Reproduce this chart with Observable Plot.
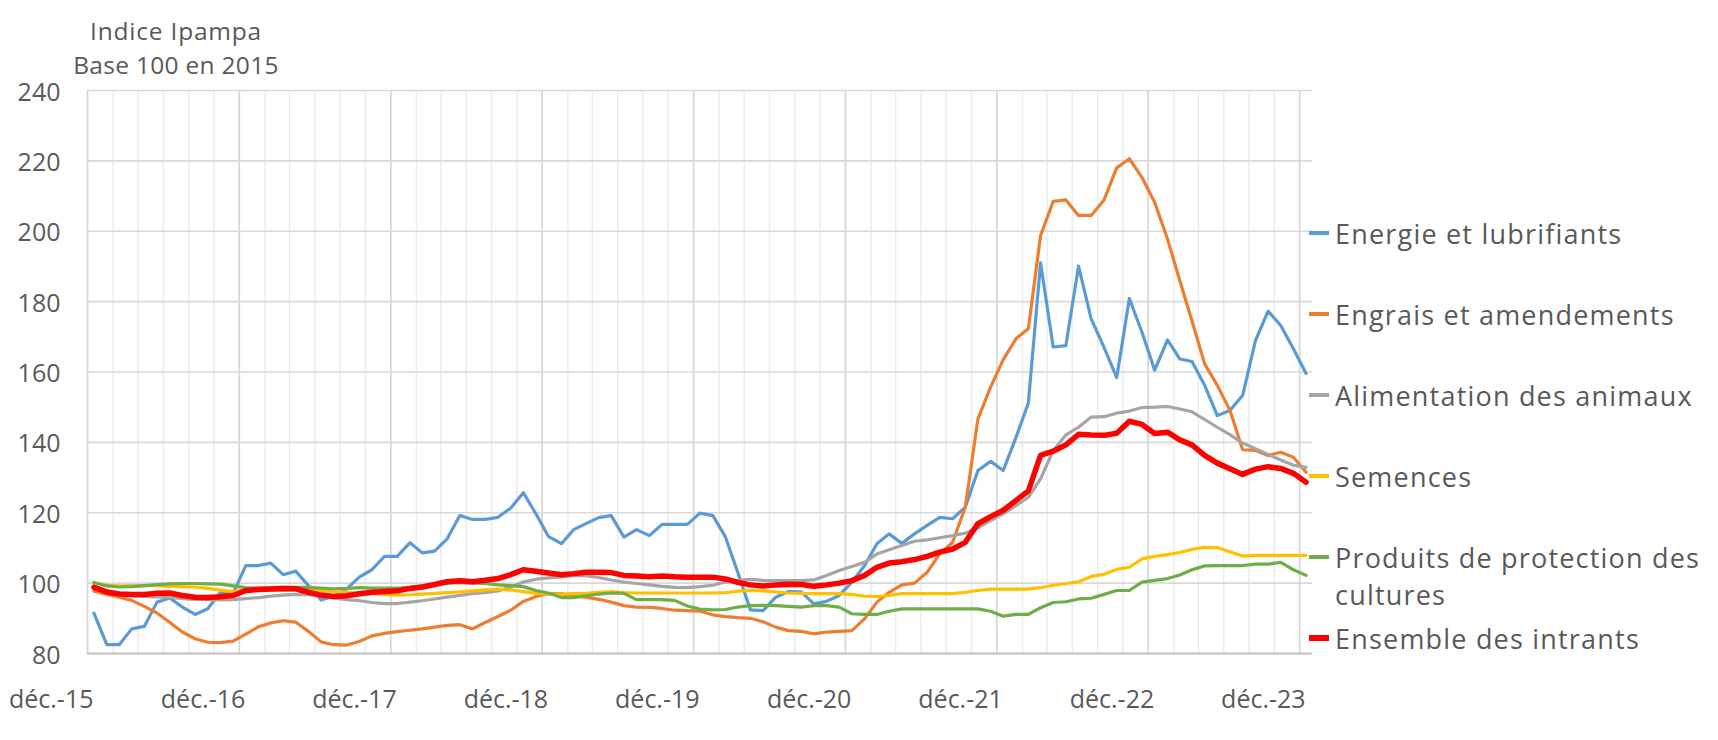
<!DOCTYPE html>
<html><head><meta charset="utf-8">
<script src="https://cdn.jsdelivr.net/npm/d3@7"></script>
<script src="https://cdn.jsdelivr.net/npm/@observablehq/plot@0.6"></script>
<style>
html,body{margin:0;padding:0;background:#fff;}
#wrap{position:relative;width:1718px;height:740px;overflow:hidden;font-family:"Open Sans",sans-serif;color:#595959;}
#title{position:relative;height:64px;width:352px;text-align:center;font-size:24.5px;line-height:34px;padding-top:14px;box-sizing:border-box;letter-spacing:0.3px;white-space:nowrap;}
#title .l1{letter-spacing:0.8px;}
#chart svg{display:block;overflow:visible;}
#legend{position:absolute;left:1309px;top:0;}
.item{position:absolute;left:0;display:flex;align-items:flex-start;font-size:27px;letter-spacing:1.2px;line-height:37px;white-space:pre;}
.swatch{width:20px;margin-right:6px;flex:none;}
</style></head>
<body><div id="wrap"><div id="title"><span class="l1">Indice Ipampa</span><br>Base 100 en 2015</div><div id="chart"></div><div id="legend"></div></div>
<script>
// ---- data (monthly, déc. 2015 → déc. 2023) ----
const energie = [91.5, 82.5, 82.5, 87, 87.7, 94.6, 95.8, 93.2, 91.1, 92.7,
  97.4, 97, 105, 105, 105.7, 102.4, 103.4, 99.3, 95.2, 96.3,
  98.3, 101.7, 103.8, 107.6, 107.6, 111.5, 108.6, 109.1, 112.6, 119.2,
  118.1, 118.1, 118.7, 121.3, 125.7, 119.7, 113.2, 111.2, 115.2, 116.9,
  118.6, 119.2, 113.1, 115.2, 113.5, 116.7, 116.7, 116.7, 119.9, 119.2,
  113.2, 103.1, 92.4, 92.2, 96, 97.6, 97.5, 94.1, 94.8, 96.5,
  100.3, 105, 111.2, 114, 111.3, 114, 116.4, 118.7, 118.3, 121.6,
  132, 134.6, 132, 141.5, 151.2, 191, 167.1, 167.5, 190.1, 175.1,
  167, 158.4, 180.9, 171.3, 160.5, 169.1, 163.7, 163, 156.2, 147.6,
  149.1, 153.3, 168.9, 177.3, 173.2, 166.6, 159.6];
const engrais = [97.7, 96.8, 96, 95.1, 93.4, 91.5, 88.9, 86.1, 84.2, 83.2,
  83.1, 83.5, 85.5, 87.6, 88.7, 89.3, 88.9, 86.3, 83.3, 82.5,
  82.4, 83.4, 85, 85.7, 86.2, 86.6, 87, 87.5, 88, 88.2,
  87, 88.8, 90.5, 92.3, 94.8, 96.2, 97, 97, 96.3, 96,
  95.4, 94.6, 93.6, 93.2, 93.1, 92.8, 92.3, 92.2, 92, 91,
  90.5, 90.2, 90, 89, 87.5, 86.5, 86.3, 85.6, 86.1, 86.3,
  86.5, 89.9, 94.6, 97.4, 99.5, 100, 103.1, 108.3, 111.6, 121.6,
  146.7, 155.7, 163.5, 169.5, 172.3, 198.8, 208.5, 208.9, 204.5, 204.5,
  208.9, 218, 220.6, 215.3, 208.2, 197.8, 186, 174.5, 162.3, 156.2,
  149.1, 137.9, 137.7, 136.3, 137.2, 135.8, 131.5];
const alimentation = [99.2, 97.6, 97, 96.4, 96.2, 96.1, 96, 95.6, 95.4, 95.3,
  95.2, 95.3, 95.6, 95.9, 96.3, 96.6, 96.8, 96.7, 96.4, 95.8,
  95.3, 95, 94.5, 94.2, 94.2, 94.6, 95, 95.5, 96, 96.5,
  97, 97.3, 97.8, 98.8, 100.3, 101.1, 101.5, 101.8, 102.1, 102.1,
  101.6, 100.9, 100.3, 99.9, 99.5, 99.1, 98.8, 98.7, 99, 99.4,
  100.3, 100.8, 101.1, 100.8, 100.7, 100.7, 100.7, 100.9, 102.2, 103.6,
  104.7, 105.9, 108.3, 109.5, 110.7, 111.9, 112.3, 112.9, 113.5, 114.2,
  115.7, 117.8, 119.7, 122.1, 124.4, 129.6, 137.7, 142.1, 144.3, 147.2,
  147.3, 148.3, 148.9, 149.9, 150, 150.2, 149.5, 148.7, 146.5, 144.3,
  142.2, 139.8, 138.2, 136.6, 135, 133.5, 132.9];
const semences = [100, 99.4, 99.2, 99.3, 99.3, 99.3, 99.1, 99, 98.9, 98.5,
  98, 97.6, 98, 97.9, 97.9, 98, 98.1, 98.1, 97.9, 97.6,
  97.4, 97.1, 97, 96.8, 96.6, 96.7, 96.9, 97.1, 97.3, 97.5,
  97.8, 98.1, 98.3, 98.1, 97.6, 97.1, 96.9, 96.9, 97, 97.1,
  97.4, 97.6, 97.3, 97.2, 97.2, 97.2, 97.2, 97.2, 97.2, 97.2,
  97.3, 97.7, 97.9, 97.8, 97.5, 97.2, 97.1, 97, 97, 97,
  96.8, 96.3, 96.2, 96.5, 97, 97, 97, 97, 97, 97.4,
  97.9, 98.3, 98.3, 98.3, 98.3, 98.7, 99.4, 99.9, 100.4, 101.9,
  102.5, 103.9, 104.5, 106.9, 107.6, 108.1, 108.7, 109.6, 110.2, 110.1,
  108.9, 107.7, 107.9, 107.9, 107.9, 107.9, 107.9];
const protection = [100.2, 99.2, 98.9, 99, 99.3, 99.6, 99.8, 99.9, 99.9, 99.8,
  99.7, 99.2, 98.7, 98.6, 98.7, 98.8, 98.8, 98.8, 98.6, 98.4,
  98.5, 98.7, 98.6, 98.6, 98.6, 98.8, 99.2, 99.6, 100, 100.1,
  100, 99.9, 99.5, 99.3, 99, 97.9, 97.2, 95.9, 95.9, 96.4,
  96.9, 97.2, 97.1, 95.3, 95.3, 95.3, 95.1, 93.5, 92.6, 92.4,
  92.5, 93.2, 93.6, 93.7, 93.6, 93.4, 93.2, 93.6, 93.6, 93.2,
  91.3, 91.1, 91.1, 92, 92.7, 92.7, 92.7, 92.7, 92.7, 92.7,
  92.7, 92, 90.6, 91.1, 91.1, 93, 94.5, 94.7, 95.5, 95.7,
  96.8, 97.9, 97.9, 100.3, 100.8, 101.3, 102.3, 103.8, 104.9, 105,
  105, 105, 105.4, 105.4, 105.9, 103.8, 102.2];
const ensemble = [98.8, 97.5, 96.9, 96.8, 96.8, 97.1, 97.2, 96.5, 96, 95.9,
  96.1, 96.5, 97.9, 98.2, 98.3, 98.5, 98.4, 97.4, 96.6, 96.2,
  96.4, 97, 97.4, 97.6, 97.8, 98.5, 98.9, 99.6, 100.4, 100.7,
  100.4, 100.8, 101.3, 102.4, 103.8, 103.4, 102.9, 102.4, 102.7, 103.1,
  103.1, 103, 102.2, 102, 101.8, 102, 101.8, 101.7, 101.7, 101.7,
  101.2, 100.2, 99.5, 99.2, 99.5, 99.7, 99.6, 99.1, 99.5, 100,
  100.7, 102.2, 104.5, 105.7, 106.1, 106.7, 107.6, 108.8, 109.7, 111.6,
  116.9, 118.9, 120.7, 123.5, 126.2, 136.3, 137.5, 139.3, 142.3, 142.1,
  142, 142.6, 146, 145.1, 142.5, 142.9, 140.7, 139.3, 136.3, 134.1,
  132.5, 130.9, 132.4, 133.1, 132.6, 131.2, 128.7];

const seriesNames = ["Energie et lubrifiants", "Engrais et amendements", "Alimentation des animaux",
  "Semences", "Produits de protection des cultures", "Ensemble des intrants"];
const legendLabels = ["Energie et lubrifiants", "Engrais et amendements", "Alimentation des animaux",
  "Semences", "Produits de protection des\ncultures", "Ensemble des intrants"];
const seriesValues = [energie, engrais, alimentation, semences, protection, ensemble];
const xTickLabels = ["déc.-15", "déc.-16", "déc.-17", "déc.-18", "déc.-19", "déc.-20", "déc.-21", "déc.-22", "déc.-23"];
const yTicks = [80, 100, 120, 140, 160, 180, 200, 220, 240];

// ---- styling ----
const colors = ["#5B9BD5", "#ED7D31", "#A5A5A5", "#FFC000", "#70AD47", "#FF0000"];
const widths = [3.2, 3.2, 3.2, 3.2, 3.2, 5.5];
const textColor = "#595959";

// ---- build ----
const n = energie.length;
const firstMonth = new Date(Date.UTC(2015, 11, 1));
const monthStart = i => d3.utcMonth.offset(firstMonth, i);
const monthMid = i => new Date((+monthStart(i) + +monthStart(i + 1)) / 2);

const rows = seriesValues.map((vals, s) => vals.map((v, i) => ({series: seriesNames[s], date: monthMid(i), value: v})));
const minorDates = d3.range(0, n, 2).map(monthStart);
const yearDates = d3.range(0, n, 12).map(monthStart);

const chart = Plot.plot({
  width: 1718, height: 676,
  marginLeft: 87, marginRight: 406, marginTop: 26, marginBottom: 87,
  style: {fontFamily: '"Open Sans", sans-serif', fontSize: "25px", color: textColor, background: "transparent", overflow: "visible"},
  x: {type: "utc", domain: [monthStart(0), monthStart(n)]},
  y: {domain: [80, 240]},
  marks: [
    Plot.ruleX(minorDates, {stroke: "#ebebeb", strokeWidth: 1.4}),
    Plot.ruleX(yearDates, {stroke: "#d6d6d6", strokeWidth: 1.6}),
    Plot.ruleY(yTicks.filter(v => v > 80), {stroke: "#d9d9d9", strokeWidth: 1.6}),
    Plot.ruleY([80], {stroke: "#bfbfbf", strokeWidth: 2.2}),
    ...rows.map((r, s) => Plot.line(r, {x: "date", y: "value", stroke: colors[s], strokeWidth: widths[s], strokeLinejoin: "round", strokeLinecap: "round"})),
    Plot.axisY(yTicks, {tickSize: 0, tickPadding: 27, fontSize: 25, fill: textColor, label: null, dy: 2}),
    Plot.axisX(yearDates, {tickSize: 0, tickPadding: 37, fontSize: 25, fill: textColor, label: null,
      textAnchor: "end", dx: 6, tickFormat: d => xTickLabels[d.getUTCFullYear() - 2015]})
  ]
});
document.getElementById("chart").appendChild(chart);

// ---- legend ----
const legend = document.getElementById("legend");
const legendCenters = [233, 314, 395, 476, 557, 638];
legendLabels.forEach((lab, s) => {
  const item = document.createElement("div");
  item.className = "item";
  item.style.top = (legendCenters[s] - 18.5) + "px";
  const sw = document.createElement("span");
  sw.className = "swatch";
  sw.style.height = widths[s] + "px";
  sw.style.background = colors[s];
  sw.style.marginTop = ((37 - widths[s]) / 2) + "px";
  const tx = document.createElement("span");
  tx.textContent = lab;
  item.appendChild(sw);
  item.appendChild(tx);
  legend.appendChild(item);
});
</script></body></html>
